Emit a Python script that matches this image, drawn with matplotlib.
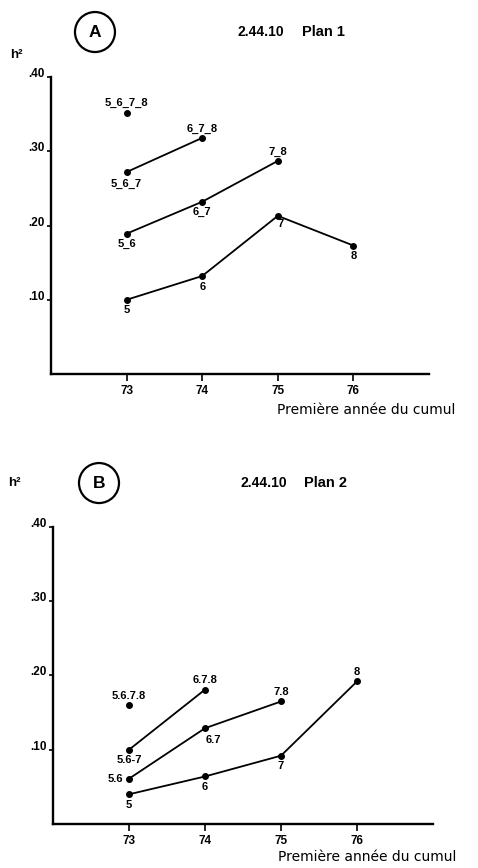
import matplotlib.pyplot as plt
from matplotlib.patches import Ellipse

# h2 by first year of cumulation, panel A (Plan 1)
years_1 = [73, 74, 75, 76]
a_single = [0.100, 0.132, 0.213, 0.173]
a_single_lab = ["5", "6", "7", "8"]
years_2 = [73, 74, 75]
a_pair = [0.189, 0.232, 0.287]
a_pair_lab = ["5_6", "6_7", "7_8"]
years_3 = [73, 74]
a_triple = [0.272, 0.318]
a_triple_lab = ["5_6_7", "6_7_8"]
years_4 = [73]
a_quad = [0.352]
a_quad_lab = ["5_6_7_8"]

# panel B (Plan 2)
b_single = [0.040, 0.064, 0.092, 0.192]
b_single_lab = ["5", "6", "7", "8"]
b_pair = [0.061, 0.129, 0.165]
b_pair_lab = ["5.6", "6.7", "7.8"]
b_triple = [0.100, 0.181]
b_triple_lab = ["5.6-7", "6.7.8"]
b_quad = [0.160]
b_quad_lab = ["5.6.7.8"]

yticks = [0.10, 0.20, 0.30, 0.40]
ytick_labels = [".10", ".20", ".30", ".40"]
xticks = [73, 74, 75, 76]
xtick_labels = ["73", "74", "75", "76"]

BOLD = dict(family="Liberation Sans", fontweight="bold")

# label placement per point: (dx, dy in points, ha, va)
below = (0, -4, "center", "top")
above = (0, 3, "center", "bottom")
a_offsets = [
    [below, below, (2, -2, "center", "top"), below],
    [below, below, above],
    [(0, -5, "center", "top"), above],
    [above],
]
b_offsets = [
    [below, below, below, above],
    [(-4, 0, "right", "center"), (6, -5, "center", "top"), above],
    [below, above],
    [above],
]

fig = plt.figure(figsize=(4.78, 8.68), dpi=100)


def draw_panel(rect, series, offsets, xlab_pos):
    ax = fig.add_axes(rect)
    for (xs, ys, labs), offs in zip(series, offsets):
        ax.plot(xs, ys, color="black", lw=1.3, marker="o", ms=4)
        for x, y, lab, (dx, dy, ha, va) in zip(xs, ys, labs, offs):
            ax.annotate(lab, (x, y), xytext=(dx, dy), textcoords="offset points",
                        ha=ha, va=va, fontsize=8, **BOLD)
    ax.set_xlim(72, 77)
    ax.set_ylim(0, 0.40)
    for s in ["top", "right"]:
        ax.spines[s].set_visible(False)
    for s in ["left", "bottom"]:
        ax.spines[s].set_linewidth(1.7)
    ax.set_xticks(xticks)
    ax.set_xticklabels(xtick_labels, fontsize=8.5, **BOLD)
    ax.set_yticks(yticks)
    ax.set_yticklabels(ytick_labels, fontsize=8.5, **BOLD)
    for t in ax.get_yticklabels():
        t.set_verticalalignment("baseline")
    ax.tick_params(axis="x", length=5, width=1.2, pad=3)
    ax.tick_params(axis="y", length=3, width=1.2, pad=1.5)
    ax.text(xlab_pos[0], xlab_pos[1], "Première année du cumul", transform=ax.transAxes,
            ha="left", va="center", fontsize=10, family="DejaVu Sans")
    return ax


draw_panel([0.1067, 0.5691, 0.7908, 0.3422],
           [(years_1, a_single, a_single_lab), (years_2, a_pair, a_pair_lab),
            (years_3, a_triple, a_triple_lab), (years_4, a_quad, a_quad_lab)],
           a_offsets, (0.598, -0.121))
draw_panel([0.1109, 0.0507, 0.7950, 0.3422],
           [(years_1, b_single, b_single_lab), (years_2, b_pair, b_pair_lab),
            (years_3, b_triple, b_triple_lab), (years_4, b_quad, b_quad_lab)],
           b_offsets, (0.592, -0.110))

# headers: circled letter, h2, title
for letter, cx, cy, hx, hy, tx, px in [("A", 0.1987, 0.9631, 0.034, 0.9366, 237, 302),
                                       ("B", 0.2071, 0.4435, 0.031, 0.4435, 241, 304)]:
    fig.patches.append(Ellipse((cx, cy), 40 / 478, 40 / 868, transform=fig.transFigure,
                               fill=False, lw=1.6, color="black"))
    fig.text(cx, cy, letter, ha="center", va="center", fontsize=12.5, **BOLD)
    fig.text(hx, hy, "h²", ha="center", va="center", fontsize=9.5, **BOLD)
    fig.text(tx / 478, cy, "2.44.10", ha="left", va="center", fontsize=10, **BOLD)
    fig.text(px / 478, cy, "Plan " + ("1" if letter == "A" else "2"),
             ha="left", va="center", fontsize=10.5, **BOLD)

fig.savefig("out.png", dpi=100)
